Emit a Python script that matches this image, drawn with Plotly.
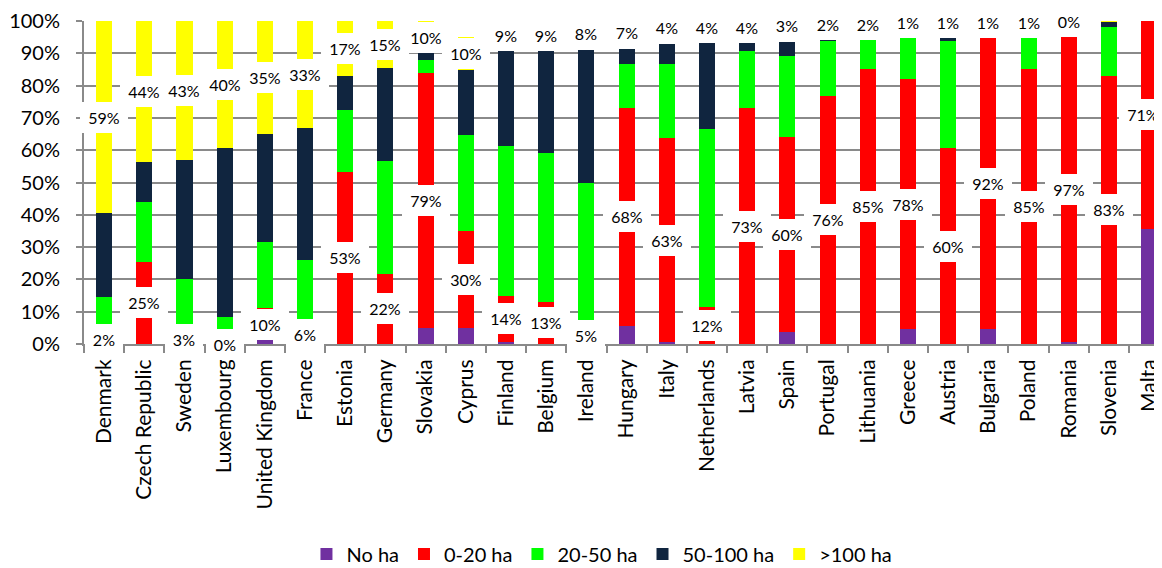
import plotly.graph_objects as go

countries = ["Denmark", "Czech Republic", "Sweden", "Luxembourg", "United Kingdom", "France",
             "Estonia", "Germany", "Slovakia", "Cyprus", "Finland", "Belgium", "Ireland",
             "Hungary", "Italy", "Netherlands", "Latvia", "Spain", "Portugal", "Lithuania",
             "Greece", "Austria", "Bulgaria", "Poland", "Romania", "Slovenia", "Malta"]

no_ha =     [0, 0, 0, 0, 1.2, 0, 0, 0, 5.1, 4.9, 0.5, 0, 0, 5.6, 0.5, 0, 0, 3.8, 0, 0, 4.5, 0, 4.5, 0, 0.7, 0, 35.5]
ha_0_20 =   [3, 25.5, 3, 0, 9.8, 6, 53.4, 21.7, 78.9, 30.1, 14.5, 13.1, 5, 67.6, 63.2, 11.6, 73, 60.4, 76.9, 85, 77.5, 60.6, 90.3, 85.1, 94.4, 83, 71]
ha_20_50 =  [11.7, 18.4, 17.2, 8.3, 20.7, 20, 19, 35.1, 3.9, 29.7, 46.3, 45.9, 44.8, 13.5, 23, 54.9, 17.7, 25.1, 17, 9.4, 12.8, 33.2, 0, 10, 0, 15, 0]
ha_50_100 = [25.8, 12.5, 36.7, 52.3, 33.2, 41, 10.6, 28.5, 2.1, 20.1, 29.4, 32, 41.2, 4.6, 6.2, 26.8, 2.6, 4.3, 0.5, 0, 0, 1, 0, 0, 0, 1.7, 0]
unclassified = [0, 0, 0, 0, 0, 0, 0, 0, 0, 0, 0.3, 0, 1, 1.7, 3.1, 2.7, 2.7, 3.4, 3.6, 3.6, 4.2, 4.2, 4.2, 3.9, 4.6, 0, 0]
ha_100 =    [59.5, 43.6, 43.1, 39.4, 35.1, 33, 17, 14.7, 10, 10.2, 9, 9, 8, 7, 4, 4, 4, 3, 2, 2, 1, 1, 1, 1, 0.3, 0.3, 0]

# labels shown on the chart (share of 0-20 ha and of >100 ha)
label_0_20 = [2, 25, 3, 0, 10, 6, 53, 22, 79, 30, 14, 13, 5, 68, 63, 12, 73, 60, 76, 85, 78, 60, 92, 85, 97, 83, 71]
label_100 =  [59, 44, 43, 40, 35, 33, 17, 15, 10, 10, 9, 9, 8, 7, 4, 4, 4, 3, 2, 2, 1, 1, 1, 1, 0, None, None]

y_ticks = list(range(0, 101, 10))

series = [
    ("No ha", no_ha, "#7030A0"),
    ("0-20 ha", ha_0_20, "#FF0000"),
    ("20-50 ha", ha_20_50, "#00FF00"),
    ("50-100 ha", ha_50_100, "#10253F"),
]

FONT = "Lato"
fig = go.Figure()
for name, vals, col in series:
    fig.add_trace(go.Bar(x=countries, y=vals, name=name, marker=dict(color=col, line=dict(width=0))))
fig.add_trace(go.Bar(x=countries, y=unclassified, name="", showlegend=False, hoverinfo="skip",
                     marker=dict(color="rgba(0,0,0,0)", line=dict(width=0))))
fig.add_trace(go.Bar(x=countries, y=ha_100, name=">100 ha", marker=dict(color="#FFFF00", line=dict(width=0))))


def label(i, y, txt):
    return dict(x=countries[i], y=y, xref="x", yref="y", text=txt, showarrow=False,
                bgcolor="white", borderpad=2, borderwidth=0,
                width=44 if len(txt) > 2 else 34, height=27,
                xshift=-6 if i == len(countries) - 1 else 0,
                font=dict(family=FONT, size=16, color="black"))


annotations = []
for i, c in enumerate(countries):
    y_low = no_ha[i] + ha_0_20[i] / 2
    if y_low <= 100:
        annotations.append(label(i, y_low, f"{label_0_20[i]}%"))
    if label_100[i] is not None:
        base_top = no_ha[i] + ha_0_20[i] + ha_20_50[i] + ha_50_100[i] + unclassified[i]
        y_top = base_top + ha_100[i] / 2
        if y_top <= 100:
            annotations.append(label(i, y_top, f"{label_100[i]}%"))

GRID = "#8a8a8a"
fig.update_layout(
    width=1154, height=560,
    margin=dict(l=76, r=0, t=13, b=224, autoexpand=False),
    barmode="stack", bargap=0.6,
    plot_bgcolor="white", paper_bgcolor="white",
    font=dict(family=FONT, size=19, color="black"),
    annotations=annotations,
    legend=dict(orientation="h", xref="container", x=0.5147, xanchor="center",
                yref="container", y=0.025, yanchor="middle",
                traceorder="normal", font=dict(family=FONT, size=20, color="black"),
                itemwidth=30),
    xaxis=dict(range=[-0.5, 26.32], tickangle=-90, showline=True, linecolor=GRID, linewidth=2,
               ticks="outside", tickson="boundaries", ticklen=7, tickwidth=2, tickcolor=GRID,
               showgrid=False, automargin=False, ticklabelstandoff=5,
               tickfont=dict(family=FONT, size=21, color="black")),
    yaxis=dict(range=[0, 100], tickvals=y_ticks, ticktext=[f"{v}%" for v in y_ticks],
               showline=True, linecolor=GRID, linewidth=2, ticks="outside", ticklen=6,
               tickwidth=2, tickcolor=GRID, showgrid=True, gridcolor=GRID, gridwidth=2,
               zeroline=False, ticklabelstandoff=12, automargin=False,
               tickfont=dict(family=FONT, size=20, color="black")),
)

fig.write_html("out.html")
